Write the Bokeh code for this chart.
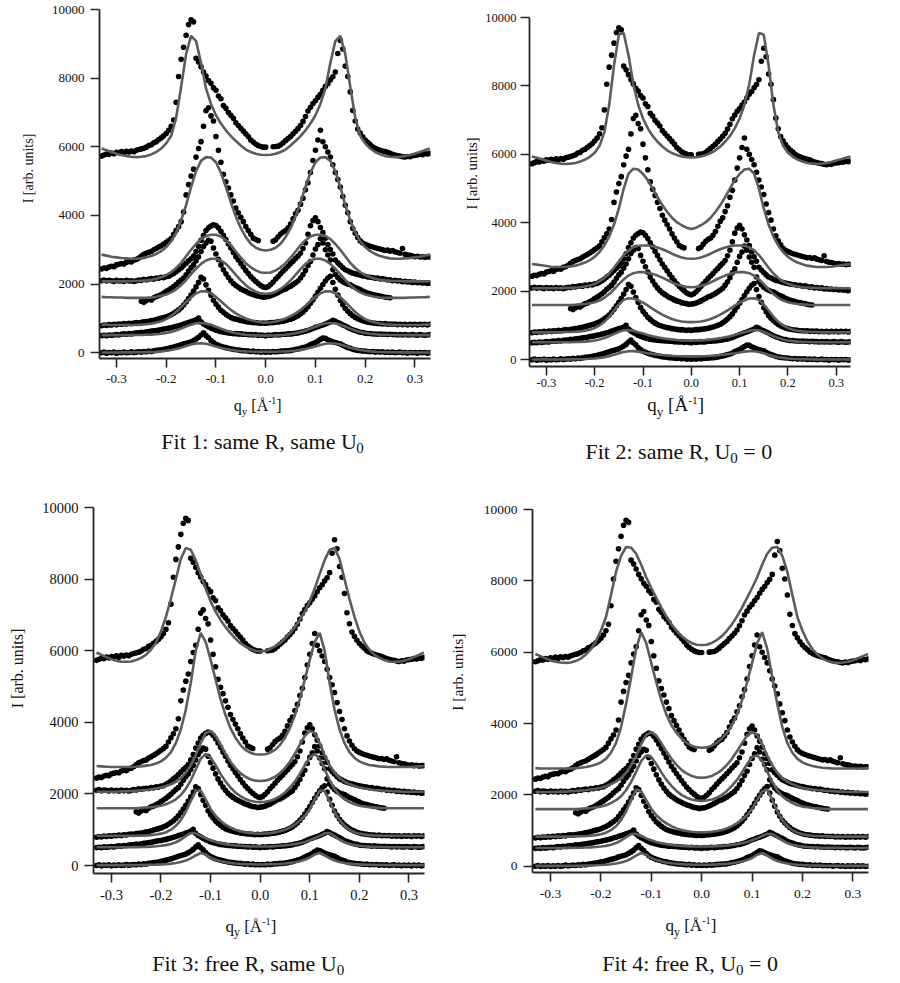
import numpy as np
from bokeh.plotting import figure
from bokeh.layouts import column, row
from bokeh.models import Range1d, FixedTicker, PrintfTickFormatter, Label
from bokeh.embed import file_html
from bokeh.resources import INLINE

nan = float("nan")

# ---------------- data (same measured curves in all four panels) ----------------
# measurement grid q_y [1/Angstrom], -0.330 ... 0.330 in steps of 0.005
Q_DATA = np.linspace(-0.33, 0.33, 133)

DATA_1 = [
    5730, 5760, 5790, 5780, 5820, 5800, 5840, 5830, 5860, 5820,
    5870, 5850, 5880, 5860, 5900, 5920, 5940, 5960, 5990, 6040,
    6060, 6120, 6150, 6210, 6260, 6320, 6390, 6480, 6600, 6780,
    7300, 8050, 8550, 8900, 9250, 9560, 9700, 9640, 8580, 8470,
    8330, 8180, 8060, 7930, 7850, 7720, 7650, 7480, 7400, 7200,
    7120, 7000, 6920, 6830, 6700, 6620, 6540, 6460, 6380, 6300,
    6200, 6140, 6080, 6040, 6010, 5990, 5990, nan, nan, 6000,
    6010, 6020, 6060, 6120, 6180, 6240, 6300, 6380, 6450, 6530,
    6620, 6740, 6880, 7040, 7150, 7260, 7340, 7440, 7530, 7650,
    7760, 7840, 7950, 8040, 8180, 8720, 9100, 8850, 8350, 8050,
    7600, 7060, 6750, 6520, 6400, 6290, 6200, 6130, 6070, 6000,
    5960, 5930, 5900, 5880, 5860, 5840, 5810, 5780, 5760, 5740,
    5730, 5710, 5700, 5720, 5710, 5740, 5750, 5760, 5780, 5770,
    5800, 5790, 5810]
DATA_2 = [
    2440, 2470, 2460, 2500, 2520, 2510, 2560, 2580, 2600, 2590,
    2640, 2660, 2650, 2700, 2720, 2760, 2820, 2870, 2900, 2930,
    2950, 3000, 3040, 3080, 3120, 3170, 3220, 3270, 3330, 3450,
    3570, 3680, 3820, 4100, 4600, 4900, 5150, 5350, 5700, 5950,
    6150, 6600, 7050, 7140, 6900, 6750, 6300, 5900, 5550, 5200,
    4980, 4800, 4600, 4420, 4220, 4080, 3950, 3820, 3680, 3560,
    3450, 3340, 3300, 3270, nan, nan, nan, nan, nan, 3250,
    3290, 3380, 3460, 3520, 3560, 3640, 3750, 3900, 4050, 4150,
    4330, 4500, 4750, 4950, 5250, 5600, 5900, 6200, 6480, 6150,
    6000, 5850, 5700, 5480, 5250, 5050, 4830, 4550, 4300, 4080,
    3820, 3620, 3480, 3360, 3260, 3200, 3160, 3130, 3100, 3080,
    3060, 3040, 3020, 3000, 2980, 2990, 2960, 2980, 2940, 2920,
    2900, 3040, 2870, 2850, 2840, 2820, 2800, 2810, 2790, 2800,
    2780, 2790, 2790]
DATA_3 = [
    2100, 2120, 2090, 2110, 2100, 2080, 2110, 2090, 2100, 2080,
    2110, 2090, 2100, 2080, 2100, 2120, 2110, 2140, 2130, 2150,
    2160, 2150, 2180, 2170, 2200, 2190, 2220, 2230, 2270, 2310,
    2360, 2420, 2470, 2540, 2610, 2680, 2740, 2820, 2950, 3100,
    3280, 3420, 3560, 3640, 3690, 3730, 3710, 3640, 3540, 3420,
    3300, 3170, 3050, 2920, 2800, 2700, 2600, 2500, 2400, 2310,
    2220, 2150, 2080, 2020, 1960, 1920, 1900, 1930, 1990, 2060,
    2150, 2220, 2300, 2380, 2450, 2520, 2600, 2670, 2750, 2820,
    2900, 3040, 3200, 3450, 3700, 3850, 3930, 3820, 3650, 3500,
    3340, 3150, 3010, 2880, 2700, 2620, 2550, 2480, 2420, 2390,
    2350, 2320, 2300, 2280, 2260, 2240, 2230, 2210, 2200, 2190,
    2170, 2180, 2150, 2160, 2140, 2120, 2130, 2100, 2110, 2090,
    2100, 2070, 2080, 2060, 2070, 2050, 2060, 2040, 2050, 2030,
    2040, 2020, 2030]
DATA_4 = [
    nan, nan, nan, nan, nan, nan, nan, nan, nan, nan,
    nan, nan, nan, nan, nan, nan, 1500, 1470, 1520, 1560,
    1540, 1600, 1640, 1660, 1700, 1740, 1790, 1830, 1880, 1930,
    1990, 2060, 2120, 2180, 2270, 2380, 2480, 2560, 2680, 2800,
    2950, 3100, 3200, 3280, 3250, 3050, 2880, 2720, 2560, 2420,
    2300, 2190, 2100, 2020, 1960, 1910, 1860, 1820, 1790, 1750,
    1720, 1700, 1670, 1650, 1640, 1620, 1630, 1640, 1660, 1690,
    1720, 1760, 1800, 1840, 1860, 1900, 1940, 1990, 2040, 2090,
    2180, 2280, 2400, 2540, 2660, 2850, 3020, 3150, 3320, 3200,
    3000, 2850, 2700, 2420, 2280, 2190, 2120, 2070, 2030, 2000,
    1980, 1940, 1900, 1870, 1840, 1800, 1770, 1740, 1720, 1700,
    1680, 1670, 1650, 1640, 1620, 1610, 1600, nan, nan, nan,
    nan, nan, nan, nan, nan, nan, nan, nan, nan, nan,
    nan, nan, nan]
DATA_5 = [
    790, 810, 800, 820, 810, 830, 820, 840, 830, 850,
    840, 860, 850, 870, 880, 870, 890, 900, 910, 920,
    940, 950, 970, 990, 1010, 1030, 1050, 1080, 1110, 1150,
    1200, 1250, 1310, 1390, 1480, 1580, 1680, 1800, 1920, 2050,
    2200, 2150, 1980, 1820, 1680, 1530, 1420, 1330, 1240, 1180,
    1120, 1070, 1030, 1000, 980, 960, 940, 930, 910, 900,
    890, 880, 880, 870, 860, 870, 860, 870, 880, 880,
    890, 900, 910, 920, 940, 960, 980, 1010, 1040, 1080,
    1130, 1190, 1260, 1340, 1440, 1540, 1650, 1760, 1880, 1990,
    2090, 2180, 2230, 2050, 1850, 1680, 1520, 1400, 1290, 1210,
    1140, 1080, 1030, 990, 960, 930, 910, 890, 880, 870,
    860, 850, 850, 840, 850, 830, 840, 830, 840, 820,
    830, 820, 830, 810, 830, 820, 830, 810, 830, 820,
    830, 810, 830]
DATA_6 = [
    500, 510, 500, 520, 510, 520, 530, 520, 540, 550,
    540, 560, 550, 570, 580, 580, 600, 590, 610, 620,
    630, 640, 650, 660, 680, 690, 700, 720, 730, 750,
    770, 790, 810, 840, 860, 880, 910, 930, 960, 1010,
    900, 840, 800, 760, 720, 690, 660, 640, 620, 600,
    590, 580, 570, 560, 560, 550, 550, 540, 540, 530,
    530, 520, 530, 510, 520, 510, 500, 520, 510, 520,
    530, 520, 530, 540, 540, 550, 550, 560, 570, 580,
    600, 610, 630, 650, 680, 710, 740, 760, 790, 810,
    840, 870, 900, 950, 920, 880, 850, 810, 780, 740,
    700, 670, 650, 620, 600, 590, 570, 560, 560, 550,
    550, 540, 550, 540, 540, 530, 540, 530, 530, 520,
    530, 520, 530, 520, 520, 530, 520, 510, 530, 520,
    510, 520, 530]
DATA_7 = [
    0, 20, -10, 10, 0, 20, -10, 10, 0, 20,
    0, 10, 30, 10, 20, 30, 20, 40, 30, 50,
    40, 60, 70, 80, 90, 100, 120, 130, 150, 170,
    190, 210, 230, 260, 280, 300, 320, 360, 400, 450,
    520, 580, 500, 440, 360, 300, 250, 220, 190, 170,
    150, 130, 120, 100, 90, 80, 70, 60, 60, 50,
    40, 50, 30, 40, 20, 30, 20, 30, 20, 40,
    30, 40, 50, 50, 60, 60, 70, 80, 100, 110,
    130, 150, 170, 200, 240, 270, 300, 340, 390, 430,
    420, 380, 350, 320, 300, 280, 260, 220, 180, 150,
    130, 100, 80, 70, 60, 50, 50, 40, 30, 40,
    20, 30, 20, 30, 10, 20, 10, 20, 0, 10,
    20, 0, 10, -10, 10, 0, 10, -10, 10, 0,
    10, -10, 0]
DATA = [DATA_1, DATA_2, DATA_3, DATA_4, DATA_5, DATA_6, DATA_7]

# ---------------- fits (symmetric in q_y; listed for q_y >= 0) ----------------
FIT_Q = [0.00, 0.01, 0.02, 0.03, 0.04, 0.05, 0.06, 0.07, 0.08, 0.09,
         0.10, 0.11, 0.12, 0.13, 0.14, 0.15, 0.16, 0.17, 0.18, 0.19,
         0.20, 0.21, 0.22, 0.23, 0.24, 0.25, 0.26, 0.27, 0.28, 0.29,
         0.30, 0.31, 0.32, 0.33]

FITS_1 = [
    [5760, 5770, 5800, 5850, 5920, 6040, 6170, 6310, 6480, 6680, 6920, 7250, 7700, 8450, 9080, 9230, 8700,
     7750, 6850, 6320, 6100, 5950, 5850, 5780, 5730, 5710, 5700, 5710, 5730, 5760, 5800, 5850, 5900, 5950],
    [2980, 3000, 3060, 3180, 3370, 3630, 3970, 4380, 4830, 5250, 5550, 5690, 5700, 5590, 5290, 4830, 4300,
     3860, 3500, 3250, 3080, 2960, 2880, 2820, 2780, 2750, 2740, 2740, 2750, 2760, 2780, 2800, 2830, 2860],
    [2330, 2340, 2400, 2490, 2610, 2770, 2950, 3130, 3280, 3390, 3440, 3440, 3400, 3310, 3170, 3000, 2810,
     2620, 2470, 2350, 2260, 2200, 2160, 2130, 2110, 2100, 2090, 2090, 2080, 2080, 2080, 2080, 2080, 2080],
    [1720, 1730, 1780, 1860, 1970, 2110, 2270, 2440, 2590, 2690, 2740, 2740, 2690, 2590, 2450, 2290, 2120,
     1970, 1850, 1760, 1700, 1660, 1630, 1610, 1600, 1600, 1600, 1600, 1600, 1610, 1610, 1620, 1620, 1630],
    [880, 890, 910, 950, 1000, 1070, 1150, 1250, 1370, 1500, 1630, 1730, 1790, 1790, 1730, 1620, 1480,
     1330, 1190, 1070, 980, 920, 880, 850, 830, 820, 810, 810, 810, 810, 810, 810, 820, 820],
    [500, 502, 507, 515, 527, 545, 570, 605, 650, 705, 760, 815, 855, 870, 860, 820, 765,
     705, 650, 605, 575, 555, 540, 530, 525, 520, 518, 516, 515, 515, 515, 515, 515, 515],
    [30, 30, 32, 36, 42, 52, 66, 85, 110, 145, 185, 230, 265, 280, 270, 240, 195,
     150, 110, 80, 58, 42, 32, 25, 20, 17, 15, 13, 12, 11, 10, 10, 10, 10],
]
FITS_2 = [
    [5910, 5920, 5940, 5980, 6040, 6120, 6230, 6370, 6540, 6760, 7050, 7450, 8050, 8900, 9550, 9500, 8600,
     7450, 6650, 6250, 6050, 5930, 5850, 5790, 5750, 5730, 5720, 5730, 5750, 5780, 5820, 5860, 5900, 5940],
    [3820, 3860, 3930, 4020, 4150, 4320, 4520, 4750, 5000, 5250, 5430, 5560, 5580, 5440, 5000, 4420, 3950,
     3600, 3340, 3150, 3010, 2910, 2840, 2790, 2750, 2730, 2710, 2710, 2710, 2720, 2740, 2760, 2780, 2800],
    [2950, 2960, 2990, 3040, 3100, 3170, 3230, 3280, 3320, 3340, 3340, 3330, 3290, 3200, 3060, 2880, 2690,
     2520, 2390, 2290, 2220, 2170, 2140, 2120, 2110, 2100, 2100, 2090, 2090, 2090, 2090, 2090, 2090, 2090],
    [2120, 2130, 2160, 2200, 2260, 2330, 2400, 2460, 2510, 2550, 2560, 2560, 2530, 2460, 2350, 2210, 2060,
     1920, 1810, 1730, 1680, 1650, 1630, 1620, 1610, 1600, 1600, 1600, 1600, 1600, 1600, 1600, 1600, 1600],
    [1100, 1105, 1120, 1150, 1190, 1250, 1320, 1400, 1490, 1580, 1670, 1740, 1790, 1800, 1750, 1620, 1440,
     1260, 1110, 1000, 930, 880, 850, 830, 820, 810, 810, 800, 800, 800, 800, 800, 800, 800],
    [560, 562, 568, 578, 592, 610, 632, 658, 690, 725, 765, 805, 845, 870, 865, 820, 755,
     690, 635, 595, 565, 545, 532, 524, 519, 516, 514, 513, 512, 512, 512, 512, 512, 512],
    [100, 101, 104, 110, 118, 128, 140, 155, 172, 192, 215, 238, 252, 250, 228, 190, 145,
     105, 75, 55, 40, 30, 23, 18, 15, 13, 11, 10, 10, 10, 10, 10, 10, 10],
]
FITS_3 = [
    [5980, 6000, 6050, 6120, 6210, 6340, 6490, 6660, 6860, 7090, 7380, 7740, 8140, 8530, 8820, 8870, 8560,
     8000, 7450, 6950, 6540, 6230, 6030, 5890, 5800, 5740, 5700, 5690, 5690, 5720, 5760, 5820, 5880, 5950],
    [3100, 3110, 3150, 3230, 3370, 3570, 3840, 4200, 4650, 5200, 5750, 6250, 6500, 6000, 5100, 4350, 3800,
     3420, 3170, 3010, 2910, 2850, 2810, 2790, 2770, 2760, 2750, 2750, 2750, 2750, 2750, 2760, 2770, 2780],
    [2360, 2370, 2410, 2480, 2580, 2720, 2900, 3120, 3380, 3620, 3760, 3700, 3420, 3080, 2800, 2590, 2440,
     2340, 2270, 2220, 2180, 2150, 2130, 2110, 2100, 2090, 2080, 2070, 2070, 2060, 2060, 2060, 2060, 2060],
    [1770, 1780, 1810, 1860, 1940, 2040, 2180, 2350, 2560, 2800, 3020, 3120, 2980, 2680, 2380, 2140, 1970,
     1850, 1770, 1710, 1670, 1650, 1630, 1620, 1610, 1600, 1600, 1600, 1600, 1600, 1600, 1600, 1600, 1600],
    [890, 895, 905, 925, 955, 1000, 1060, 1140, 1250, 1390, 1580, 1850, 2100, 2080, 1800, 1500, 1270,
     1110, 1000, 930, 890, 865, 850, 840, 835, 830, 830, 830, 830, 830, 830, 830, 830, 830],
    [530, 531, 535, 541, 550, 562, 578, 598, 625, 660, 705, 760, 830, 900, 905, 820, 720,
     650, 600, 570, 550, 537, 528, 522, 518, 515, 513, 512, 511, 510, 510, 510, 510, 510],
    [30, 31, 34, 39, 47, 58, 73, 93, 120, 160, 220, 310, 350, 280, 200, 140, 100,
     72, 53, 40, 31, 25, 20, 17, 15, 13, 12, 11, 10, 10, 10, 10, 10, 10],
]
FITS_4 = [
    [6200, 6210, 6260, 6340, 6450, 6600, 6780, 7000, 7250, 7520, 7800, 8100, 8450, 8760, 8930, 8950, 8700,
     8250, 7600, 6980, 6600, 6300, 6080, 5930, 5820, 5750, 5710, 5700, 5710, 5730, 5770, 5830, 5890, 5950],
    [3320, 3330, 3380, 3460, 3580, 3740, 3950, 4250, 4650, 5150, 5700, 6250, 6560, 6100, 5300, 4550, 3900,
     3450, 3180, 3010, 2910, 2850, 2810, 2780, 2760, 2750, 2740, 2740, 2740, 2740, 2740, 2740, 2740, 2750],
    [2480, 2490, 2530, 2600, 2700, 2840, 3010, 3220, 3450, 3660, 3760, 3680, 3420, 3100, 2830, 2620, 2470,
     2370, 2300, 2240, 2200, 2170, 2150, 2130, 2120, 2110, 2100, 2090, 2090, 2080, 2080, 2080, 2080, 2080],
    [1830, 1840, 1870, 1920, 2000, 2110, 2250, 2420, 2630, 2860, 3060, 3110, 2950, 2650, 2360, 2130, 1960,
     1850, 1770, 1710, 1670, 1650, 1630, 1620, 1610, 1600, 1600, 1600, 1600, 1600, 1600, 1600, 1600, 1600],
    [950, 955, 965, 985, 1015, 1060, 1120, 1200, 1300, 1430, 1610, 1850, 2100, 2150, 1860, 1540, 1290,
     1120, 1010, 940, 895, 870, 855, 845, 840, 835, 830, 830, 830, 830, 830, 830, 830, 830],
    [550, 551, 555, 561, 570, 582, 598, 618, 645, 680, 725, 780, 845, 905, 900, 815, 720,
     650, 600, 570, 550, 537, 528, 522, 518, 515, 513, 512, 511, 510, 510, 510, 510, 510],
    [40, 41, 44, 49, 57, 68, 83, 103, 130, 170, 230, 320, 370, 300, 210, 145, 103,
     75, 55, 42, 33, 26, 21, 18, 15, 13, 12, 11, 10, 10, 10, 10, 10, 10],
]
FITS = [FITS_1, FITS_2, FITS_3, FITS_4]

X_TICKS = [-0.3, -0.2, -0.1, 0.0, 0.1, 0.2, 0.3]
Y_TICKS = [0, 2000, 4000, 6000, 8000, 10000]
Y_LABEL = "I [arb. units]"
TITLE_MAIN = ["Fit 1: same R, same U", "Fit 2: same R, U", "Fit 3: free R, same U", "Fit 4: free R, U"]
TITLE_SUFFIX = ["", "= 0", "", "= 0"]

for s in DATA:
    if len(s) != len(Q_DATA):
        raise ValueError("data length %d" % len(s))
for fs in FITS:
    for f in fs:
        if len(f) != len(FIT_Q):
            raise ValueError("fit length %d" % len(f))

# ---------------- layout / style ----------------
FONT = "Liberation Serif"
TXT = "#111111"
AXIS_C = "#262626"
FIT_C = "#5c5c5c"
BASE_FIX = 0.34   # rendered text sits ~0.34 em below the requested baseline

# W,H: block size; wy: strip holding the rotated y label; the panel figure follows it.
# The strip below the panel (same frame as the panel) holds the x label and the caption;
# its x coordinates are pixels from the panel frame's left edge, y pixels from its bottom.
PANELS = [
    dict(W=448, H=478, wy=48, mbl=50, mbr=18, mbt=9, fh=349, mbb=34,
         xr=(-0.3341, 0.3313), yr=(-166, 10000), tfs=13, xst=7, yst=6,
         ylab=(28, 310, 14), xlab=(134.7, 68, 16), sup=0.42, title=(62, 30), tw=195.6),
    dict(W=444, H=478, wy=34, mbl=47, mbr=42, mbt=17, fh=349, mbb=27,
         xr=(-0.3350, 0.3296), yr=(-196, 10000), tfs=12.5, xst=3, yst=4,
         ylab=(23.7, 305, 14.5), xlab=(117.7, 67.5, 19), sup=0.36, title=(56, 20), tw=144.8),
    dict(W=448, H=500, wy=36, mbl=57, mbr=24, mbt=29, fh=366, mbb=36,
         xr=(-0.3361, 0.3313), yr=(-223, 10000), tfs=14.5, xst=7, yst=6,
         ylab=(17, 310, 16), xlab=(132, 46.5, 17), sup=0.42, title=(58.7, 8), tw=184.5),
    dict(W=444, H=500, wy=22, mbl=62, mbr=24, mbt=31, fh=363, mbb=37,
         xr=(-0.3357, 0.3310), yr=(-177, 10000), tfs=13.5, xst=8, yst=6,
         ylab=(8.5, 306.3, 15.5), xlab=(133, 47, 17), sup=0.42, title=(69.7, 8), tw=133.8),
]


def mirror(q, v):
    xs = [-a for a in reversed(q)] + list(q[1:])
    ys = list(reversed(v)) + list(v[1:])
    return xs, ys


def text_strip(w, h, bl=0, br=0):
    fw = w - bl - br
    t = figure(width=int(w), height=int(h), x_range=Range1d(0, fw), y_range=Range1d(0, h),
               output_backend="svg", toolbar_location=None, title=None,
               x_axis_type=None, y_axis_type=None,
               min_border_left=bl, min_border_right=br, min_border_top=0, min_border_bottom=0)
    t.grid.visible = False
    t.outline_line_color = None
    t.background_fill_color = "white"
    t.border_fill_color = "white"
    return t


def add_text(p, text, x, y, fs, align="left", baseline="alphabetic", angle=0.0):
    if baseline == "alphabetic":
        y = y + BASE_FIX * fs
    p.add_layout(Label(x=x, y=y, text=text, text_font=FONT, text_font_size="%.1fpx" % fs,
                       text_color=TXT, text_align=align, text_baseline=baseline, angle=angle))


def make_panel(i):
    c = PANELS[i]
    pw = c["W"] - c["wy"]
    ph = c["mbt"] + c["fh"] + c["mbb"]
    p = figure(width=pw, height=ph, x_range=Range1d(*c["xr"]), y_range=Range1d(*c["yr"]),
               output_backend="svg", toolbar_location=None, title=None,
               min_border_left=c["mbl"], min_border_right=c["mbr"],
               min_border_top=c["mbt"], min_border_bottom=c["mbb"])
    p.grid.visible = False
    p.outline_line_color = None
    p.background_fill_color = "white"
    p.border_fill_color = "white"

    for s in DATA:
        p.scatter(Q_DATA, np.array(s, dtype=float), size=5.6, marker="circle",
                  fill_color="black", line_color=None)
    for f in FITS[i]:
        xs, ys = mirror(FIT_Q, f)
        p.line(xs, ys, line_color=FIT_C, line_width=2.6)

    p.xaxis.ticker = FixedTicker(ticks=X_TICKS, minor_ticks=[])
    p.xaxis.formatter = PrintfTickFormatter(format="%.1f")
    p.yaxis.ticker = FixedTicker(ticks=Y_TICKS, minor_ticks=[])
    for ax in (p.xaxis, p.yaxis):
        ax.axis_line_color = AXIS_C
        ax.axis_line_width = 1.8
        ax.major_tick_line_color = AXIS_C
        ax.major_tick_line_width = 1.6
        ax.major_tick_out = 9
        ax.major_tick_in = 0
        ax.minor_tick_line_color = None
        ax.major_label_text_font = FONT
        ax.major_label_text_font_size = "%.1fpx" % c["tfs"]
        ax.major_label_text_color = TXT
    p.xaxis.major_label_standoff = c["xst"]
    p.yaxis.major_label_standoff = c["yst"]

    # strip with the rotated y label
    ys_fig = text_strip(c["wy"], c["H"])
    yx, yy, yfs = c["ylab"]
    add_text(ys_fig, Y_LABEL, yx, yy, yfs, align="center", baseline="middle", angle=np.pi / 2)

    # strip below: x label q_y [Å^-1] and caption
    t = text_strip(pw, c["H"] - ph, c["mbl"], c["mbr"])
    x0, yb, F = c["xlab"]
    add_text(t, "q", x0, yb, F)
    add_text(t, "y", x0 + 0.5 * F, yb - 0.25 * F, 0.7 * F)
    add_text(t, "[Å", x0 + 1.1 * F, yb, F)
    add_text(t, "-1", x0 + 2.155 * F, yb + c["sup"] * F, 0.6 * F)
    add_text(t, "]", x0 + 2.655 * F, yb, F)

    tx, ty = c["title"]
    add_text(t, TITLE_MAIN[i], tx, ty, 22)
    add_text(t, "0", tx + c["tw"], ty - 5, 15)
    if TITLE_SUFFIX[i]:
        add_text(t, TITLE_SUFFIX[i], tx + c["tw"] + 7.5 + 5.5, ty, 22)

    return row(ys_fig, column(p, t, spacing=0), spacing=0)


blocks = [make_panel(i) for i in range(4)]
layout = column(row(blocks[0], blocks[1], spacing=0), row(blocks[2], blocks[3], spacing=0), spacing=0)

with open("out.html", "w") as fh:
    fh.write(file_html(layout, INLINE))
